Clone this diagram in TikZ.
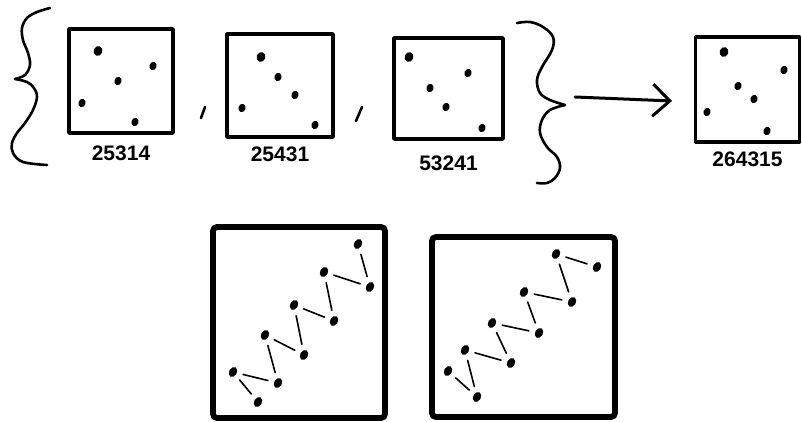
\documentclass[tikz,border=0pt]{standalone}
\usepackage{fontspec}
\setsansfont{Liberation Sans}
\usetikzlibrary{arrows.meta,positioning,shapes.geometric}
\tikzset{
  >=Stealth,
  frame/.style={draw,line width=1.7pt,rectangle,inner sep=0pt,line join=round},
  bigframe/.style={draw,line width=2.9pt,rectangle,inner sep=0pt,rounded corners=2pt},
  dot/.style={ellipse,fill,draw=none,inner sep=0pt,minimum width=4.2pt,minimum height=3.6pt,rotate=70},
  bigdot/.style={dot,minimum width=5pt,minimum height=4.4pt},
  sdot/.style={ellipse,fill,draw=none,inner sep=0pt,minimum width=5.2pt,minimum height=3.9pt,rotate=60},
  link/.style={line width=0.8pt,line cap=round,shorten >=3pt,shorten <=3pt},
  brace/.style={line width=1.3pt,line cap=round,line join=miter},
  perm/.style={font=\sffamily\bfseries\fontsize{10.5}{12}\selectfont,inner sep=0pt,anchor=north},
  flow/.style={->,line width=1.5pt,line cap=round,line join=round},
}
\begin{document}
\begin{tikzpicture}[x=0.5pt,y=-0.5pt]
  \useasboundingbox (0,0) rectangle (802,422);

  % the set of input configurations
  \node[frame,minimum width=52pt,minimum height=52pt] (box1) at (121,81) {};
  \node[frame,minimum width=53pt,minimum height=51.5pt] (box2) at (280,85.5) {};
  \node[frame,minimum width=54.5pt,minimum height=50.5pt] (box3) at (448.5,88.5) {};
  \node[perm,below=5.5pt of box1] (lbl1) {25314};
  \node[perm,below=4pt of box2] (lbl2) {25431};
  \node[perm,below=7.5pt of box3] (lbl3) {53241};

  \node[bigdot] (a1) at (98,51) {};
  \node[dot] (a2) at (153,66) {};
  \node[dot] (a3) at (118,81) {};
  \node[dot] (a4) at (82,103) {};
  \node[dot] (a5) at (135,122) {};

  \node[bigdot] (b1) at (261,57) {};
  \node[dot] (b2) at (278,77) {};
  \node[dot] (b3) at (295,95) {};
  \node[dot] (b4) at (242,108) {};
  \node[dot] (b5) at (315,125) {};

  \node[bigdot] (c1) at (409,57) {};
  \node[dot] (c2) at (468,73) {};
  \node[dot] (c3) at (430,88) {};
  \node[dot] (c4) at (446,107) {};
  \node[dot] (c5) at (482,128) {};

  % separating commas
  \draw[brace] (205,107) -- (201,118);
  \draw[brace] (362,107) -- (356,121);

  % braces round the set
  \draw[brace] plot[smooth,tension=0.6] coordinates
    {(50,8) (37,12) (27,18) (22,28) (23,40) (28,53) (30,65) (25,75) (15,79)};
  \draw[brace] plot[smooth,tension=0.6] coordinates
    {(15,79) (27,82) (34,88) (37,97) (33,110) (25,123) (17,133) (12,143) (13,153) (23,162) (47,165)};
  \draw[brace] plot[smooth,tension=0.6] coordinates
    {(517,23) (530,22) (543,27) (553,37) (552,50) (542,67) (537,80) (540,93) (550,100) (565,105)};
  \draw[brace] plot[smooth,tension=0.6] coordinates
    {(565,105) (550,110) (542,120) (540,133) (547,147) (557,157) (560,168) (555,178) (547,183) (537,183)};

  % maps to the result
  \coordinate (arrS) at (575,97);
  \coordinate (arrE) at (672,101);
  \draw[flow,-{Straight Barb[length=8.5pt,width=16pt]}] (arrS) -- (arrE);

  \node[frame,minimum width=52pt,minimum height=52.5pt] (box4) at (747.5,89.5) {};
  \node[perm,below=4pt of box4] (lbl4) {264315};
  \node[bigdot] (d1) at (724,52) {};
  \node[dot] (d2) at (784,70) {};
  \node[dot] (d3) at (738,86) {};
  \node[dot] (d4) at (754,99) {};
  \node[dot] (d5) at (707,112) {};
  \node[dot] (d6) at (767,131) {};

  % zigzag chains
  \node[bigframe,minimum width=86pt,minimum height=95.5pt] (big1) at (299,322.5) {};
  \node[bigframe,minimum width=91.5pt,minimum height=90pt] (big2) at (523.5,327) {};

  \foreach \x/\y [count=\i] in {358/244,370/287,324/272,334/321,294/305,
                                304/355,265/335,278/383,233/372,258/402}
    \node[sdot] (p\i) at (\x,\y) {};
  \foreach \x/\y [count=\i] in {597/267,556/254,572/302,524/292,539/333,
                                492/323,511/363,465/350,477/397,448/371}
    \node[sdot] (q\i) at (\x,\y) {};

  \foreach \s/\t in {1/2,2/3,3/4,4/5,5/6,6/7,7/8,8/9,9/10}
  {
    \draw[link] (p\s) -- (p\t);
    \draw[link] (q\s) -- (q\t);
  }
\end{tikzpicture}
\end{document}
